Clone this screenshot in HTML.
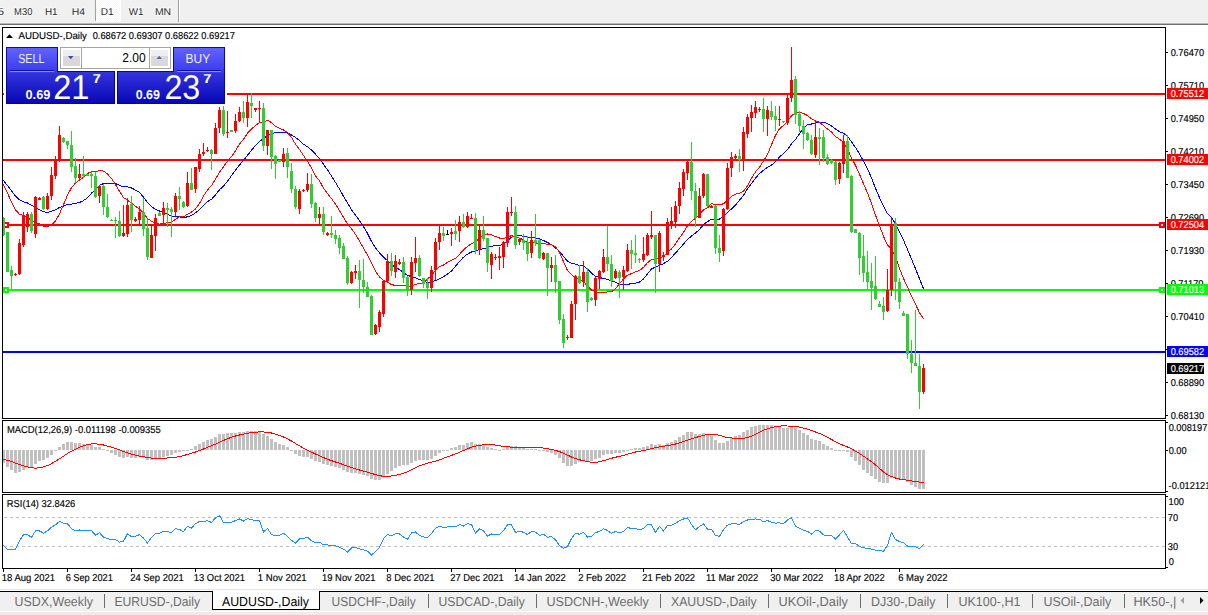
<!DOCTYPE html>
<html><head><meta charset="utf-8"><title>AUDUSD-,Daily</title>
<style>html,body{margin:0;padding:0;background:#fff;width:1208px;height:615px;overflow:hidden}svg{display:block}text{font-family:"Liberation Sans",sans-serif;white-space:pre}</style>
</head><body><svg width="1208" height="615" viewBox="0 0 1208 615" font-family="Liberation Sans, sans-serif" text-rendering="geometricPrecision"><rect x="0" y="0" width="1208" height="23" fill="#f0f0f0"/>
<defs><pattern id="chk" width="2" height="2" patternUnits="userSpaceOnUse"><rect width="2" height="2" fill="#f6f6f6"/><rect width="1" height="1" fill="#ffffff"/><rect x="1" y="1" width="1" height="1" fill="#ffffff"/></pattern><clipPath id="cmain"><rect x="3" y="28" width="1162" height="390"/></clipPath><clipPath id="cmacd"><rect x="3" y="421" width="1162" height="71"/></clipPath><clipPath id="crsi"><rect x="3" y="495" width="1162" height="73"/></clipPath><linearGradient id="gtop" x1="0" y1="0" x2="0" y2="1"><stop offset="0" stop-color="#6464ff"/><stop offset="1" stop-color="#3c3ced"/></linearGradient><linearGradient id="gbot" x1="0" y1="0" x2="0" y2="1"><stop offset="0" stop-color="#3535e0"/><stop offset="1" stop-color="#0606b4"/></linearGradient></defs>
<rect x="96" y="0" width="25" height="22" fill="#ffffff"/>
<rect x="96" y="0" width="24" height="21" fill="url(#chk)"/>
<rect x="95" y="0" width="1" height="21" fill="#a0a0a0"/>
<rect x="178" y="0" width="1" height="22" fill="#a0a0a0"/>
<rect x="179" y="0" width="1" height="22" fill="#ffffff"/>
<rect x="0" y="23" width="1208" height="1" fill="#b9b9b9"/>
<rect x="0" y="24" width="1208" height="1" fill="#6e6e6e"/>
<rect x="0" y="25" width="1208" height="564" fill="#ffffff"/>
<text x="-2.15" y="15" font-size="10" fill="#ffffff" font-weight="normal" textLength="6.32" lengthAdjust="spacingAndGlyphs" stroke="#ffffff" stroke-width="1.6" opacity="0.7">5</text>
<text x="-2.15" y="15" font-size="10" fill="#2a2a2a" font-weight="normal" textLength="6.32" lengthAdjust="spacingAndGlyphs" >5</text>
<text x="14.12" y="15" font-size="10" fill="#ffffff" font-weight="normal" textLength="18.28" lengthAdjust="spacingAndGlyphs" stroke="#ffffff" stroke-width="1.6" opacity="0.7">M30</text>
<text x="14.12" y="15" font-size="10" fill="#2a2a2a" font-weight="normal" textLength="18.28" lengthAdjust="spacingAndGlyphs" >M30</text>
<text x="44.88" y="15" font-size="10" fill="#ffffff" font-weight="normal" textLength="12.70" lengthAdjust="spacingAndGlyphs" stroke="#ffffff" stroke-width="1.6" opacity="0.7">H1</text>
<text x="44.88" y="15" font-size="10" fill="#2a2a2a" font-weight="normal" textLength="12.70" lengthAdjust="spacingAndGlyphs" >H1</text>
<text x="71.84" y="15" font-size="10" fill="#ffffff" font-weight="normal" textLength="13.36" lengthAdjust="spacingAndGlyphs" stroke="#ffffff" stroke-width="1.6" opacity="0.7">H4</text>
<text x="71.84" y="15" font-size="10" fill="#2a2a2a" font-weight="normal" textLength="13.36" lengthAdjust="spacingAndGlyphs" >H4</text>
<text x="100.77" y="15" font-size="10" fill="#ffffff" font-weight="normal" textLength="12.92" lengthAdjust="spacingAndGlyphs" stroke="#ffffff" stroke-width="1.6" opacity="0.7">D1</text>
<text x="100.77" y="15" font-size="10" fill="#2a2a2a" font-weight="normal" textLength="12.92" lengthAdjust="spacingAndGlyphs" >D1</text>
<text x="128.85" y="15" font-size="10" fill="#ffffff" font-weight="normal" textLength="14.61" lengthAdjust="spacingAndGlyphs" stroke="#ffffff" stroke-width="1.6" opacity="0.7">W1</text>
<text x="128.85" y="15" font-size="10" fill="#2a2a2a" font-weight="normal" textLength="14.61" lengthAdjust="spacingAndGlyphs" >W1</text>
<text x="154.94" y="15" font-size="10" fill="#ffffff" font-weight="normal" textLength="16.22" lengthAdjust="spacingAndGlyphs" stroke="#ffffff" stroke-width="1.6" opacity="0.7">MN</text>
<text x="154.94" y="15" font-size="10" fill="#2a2a2a" font-weight="normal" textLength="16.22" lengthAdjust="spacingAndGlyphs" >MN</text>
<rect x="2.5" y="27.5" width="1163" height="391" fill="none" stroke="#000" stroke-width="1"/>
<rect x="2.5" y="420.5" width="1163" height="72" fill="none" stroke="#000" stroke-width="1"/>
<rect x="2.5" y="494.5" width="1163" height="74" fill="none" stroke="#000" stroke-width="1"/>
<g clip-path="url(#cmain)" shape-rendering="crispEdges">
<rect x="3" y="93" width="1162" height="2" fill="#ff0000"/>
<rect x="3" y="159" width="1162" height="2" fill="#ff0000"/>
<rect x="3" y="224" width="1162" height="2" fill="#ff0000"/>
<rect x="3" y="222" width="6" height="6" fill="#ff0000"/><rect x="5" y="224" width="2" height="2" fill="#fff"/>
<rect x="1159" y="222" width="6" height="6" fill="#ff0000"/><rect x="1161" y="224" width="2" height="2" fill="#fff"/>
<rect x="3" y="289" width="1162" height="2" fill="#00ff00"/>
<rect x="3" y="287" width="6" height="6" fill="#00ff00"/><rect x="5" y="289" width="2" height="2" fill="#fff"/>
<rect x="1159" y="287" width="6" height="6" fill="#00ff00"/><rect x="1161" y="289" width="2" height="2" fill="#fff"/>
<rect x="3" y="351" width="1162" height="2" fill="#0000ff"/>
</g>
<polyline clip-path="url(#cmain)" points="-0.5,177.1 3.5,180.7 7.5,185.5 11.5,190.7 15.5,196.1 19.5,199.9 23.5,201.8 27.5,203.0 31.5,205.4 35.5,207.3 39.5,209.7 43.5,211.7 47.5,212.4 51.5,211.3 55.5,209.8 59.5,207.5 63.5,206.2 67.5,204.4 71.5,204.2 75.5,203.4 79.5,202.5 83.5,200.6 87.5,197.7 91.5,193.2 95.5,189.4 99.5,185.3 103.5,183.6 107.5,183.6 111.5,184.0 115.5,183.5 119.5,185.3 123.5,187.0 127.5,186.8 131.5,188.0 135.5,190.1 139.5,192.5 143.5,197.0 147.5,202.5 151.5,206.7 155.5,209.2 159.5,211.0 163.5,212.6 167.5,214.2 171.5,215.9 175.5,216.8 179.5,216.9 183.5,217.9 187.5,216.7 191.5,215.4 195.5,212.9 199.5,209.7 203.5,205.7 207.5,201.7 211.5,199.3 215.5,194.9 219.5,189.7 223.5,186.0 227.5,181.4 231.5,175.5 235.5,170.0 239.5,165.0 243.5,160.3 247.5,155.3 251.5,150.3 255.5,145.4 259.5,141.2 263.5,138.7 267.5,135.0 271.5,133.8 275.5,132.6 279.5,132.3 283.5,132.4 287.5,133.1 291.5,135.0 295.5,137.4 299.5,140.5 303.5,144.3 307.5,146.7 311.5,150.1 315.5,154.2 319.5,158.6 323.5,164.3 327.5,169.8 331.5,176.1 335.5,182.5 339.5,189.1 343.5,196.3 347.5,202.9 351.5,209.7 355.5,215.1 359.5,220.6 363.5,226.6 367.5,233.4 371.5,241.4 375.5,247.8 379.5,252.9 383.5,257.2 387.5,260.6 391.5,264.7 395.5,267.4 399.5,269.5 403.5,272.5 407.5,275.3 411.5,276.7 415.5,277.8 419.5,279.5 423.5,281.2 427.5,282.6 431.5,282.0 435.5,280.6 439.5,278.8 443.5,276.7 447.5,274.1 451.5,271.0 455.5,266.2 459.5,261.3 463.5,257.2 467.5,254.1 471.5,252.0 475.5,251.0 479.5,249.6 483.5,248.5 487.5,247.8 491.5,246.1 495.5,245.8 499.5,245.7 503.5,244.1 507.5,240.8 511.5,237.1 515.5,235.9 519.5,235.7 523.5,236.2 527.5,237.1 531.5,237.3 535.5,237.9 539.5,239.0 543.5,240.5 547.5,242.5 551.5,244.8 555.5,247.9 559.5,251.2 563.5,256.5 567.5,261.2 571.5,263.1 575.5,264.1 579.5,265.4 583.5,266.1 587.5,269.0 591.5,273.1 595.5,276.3 599.5,277.6 603.5,278.4 607.5,279.5 611.5,280.7 615.5,282.2 619.5,283.9 623.5,284.5 627.5,284.3 631.5,283.7 635.5,283.2 639.5,282.1 643.5,279.0 647.5,273.8 651.5,269.0 655.5,267.1 659.5,265.1 663.5,263.7 667.5,261.3 671.5,257.5 675.5,253.0 679.5,248.7 683.5,244.0 687.5,239.5 691.5,236.0 695.5,233.0 699.5,229.5 703.5,224.6 707.5,221.5 711.5,219.4 715.5,219.1 719.5,219.1 723.5,216.7 727.5,212.6 731.5,208.9 735.5,205.1 739.5,200.2 743.5,195.4 747.5,188.8 751.5,183.6 755.5,178.2 759.5,173.5 763.5,170.3 767.5,167.3 771.5,165.1 775.5,161.8 779.5,157.0 783.5,153.5 787.5,149.8 791.5,143.8 795.5,139.5 799.5,133.7 803.5,128.0 807.5,124.7 811.5,124.0 815.5,123.1 819.5,122.3 823.5,122.2 827.5,123.7 831.5,125.9 835.5,129.1 839.5,131.7 843.5,133.3 847.5,136.1 851.5,141.9 855.5,147.4 859.5,154.0 863.5,161.3 867.5,168.9 871.5,177.9 875.5,188.4 879.5,197.5 883.5,206.4 887.5,213.8 891.5,217.8 895.5,223.9 899.5,231.8 903.5,240.2 907.5,249.5 911.5,259.0 915.5,268.7 919.5,278.8 923.5,288.6" fill="none" stroke="#0000ff" stroke-width="1" shape-rendering="crispEdges"/>
<polyline clip-path="url(#cmain)" points="-0.5,181.1 3.5,184.9 7.5,193.1 11.5,202.3 15.5,210.0 19.5,214.3 23.5,215.6 27.5,217.2 31.5,220.7 35.5,222.6 39.5,223.6 43.5,226.3 47.5,226.4 51.5,225.1 55.5,221.0 59.5,213.9 63.5,204.6 67.5,195.2 71.5,187.6 75.5,183.0 79.5,180.1 83.5,177.4 87.5,173.4 91.5,171.9 95.5,171.9 99.5,170.3 103.5,171.1 107.5,174.1 111.5,178.4 115.5,184.6 119.5,191.2 123.5,197.5 127.5,200.2 131.5,203.2 135.5,206.4 139.5,209.0 143.5,212.8 147.5,218.5 151.5,221.2 155.5,223.5 159.5,224.1 163.5,223.5 167.5,222.7 171.5,222.0 175.5,219.2 179.5,216.8 183.5,216.9 187.5,214.2 191.5,212.1 195.5,208.9 199.5,203.6 203.5,196.1 207.5,190.0 211.5,185.5 215.5,179.2 219.5,172.1 223.5,166.7 227.5,161.0 231.5,156.5 235.5,150.9 239.5,144.1 243.5,139.4 247.5,133.2 251.5,128.9 255.5,125.6 259.5,122.5 263.5,122.1 267.5,120.4 271.5,122.5 275.5,126.4 279.5,128.4 283.5,130.0 287.5,132.5 291.5,137.4 295.5,144.2 299.5,149.4 303.5,155.6 307.5,161.2 311.5,168.1 315.5,175.9 319.5,180.8 323.5,188.1 327.5,193.5 331.5,198.6 335.5,204.1 339.5,210.8 343.5,217.4 347.5,224.1 351.5,228.7 355.5,234.4 359.5,240.9 363.5,248.2 367.5,254.9 371.5,263.3 375.5,271.2 379.5,276.9 383.5,280.4 387.5,282.3 391.5,284.5 395.5,285.5 399.5,285.7 403.5,285.2 407.5,286.6 411.5,286.0 415.5,284.4 419.5,283.5 423.5,282.6 427.5,279.2 431.5,275.3 435.5,270.3 439.5,266.8 443.5,265.0 447.5,262.4 451.5,260.3 455.5,258.3 459.5,254.3 463.5,249.8 467.5,246.5 471.5,243.6 475.5,241.8 479.5,238.0 483.5,234.5 487.5,234.0 491.5,234.8 495.5,236.6 499.5,238.0 503.5,238.6 507.5,237.2 511.5,235.6 515.5,237.2 519.5,238.1 523.5,240.0 527.5,242.6 531.5,241.9 535.5,242.8 539.5,244.1 543.5,243.4 547.5,244.3 551.5,244.9 555.5,246.8 559.5,252.3 563.5,261.6 567.5,270.6 571.5,274.8 575.5,277.4 579.5,280.3 583.5,281.6 587.5,286.0 591.5,290.1 595.5,291.5 599.5,292.9 603.5,292.1 607.5,292.0 611.5,291.9 615.5,288.5 619.5,283.8 623.5,279.0 627.5,275.2 631.5,273.6 635.5,271.6 639.5,270.7 643.5,267.3 647.5,262.7 651.5,259.6 655.5,259.1 659.5,257.4 663.5,256.7 667.5,252.5 671.5,248.9 675.5,243.8 679.5,237.9 683.5,232.3 687.5,225.8 691.5,221.3 695.5,218.3 699.5,214.2 703.5,209.9 707.5,207.9 711.5,203.7 715.5,204.7 719.5,204.7 723.5,203.8 727.5,200.1 731.5,196.5 735.5,194.2 739.5,193.3 743.5,191.2 747.5,185.9 751.5,178.3 755.5,171.9 759.5,167.2 763.5,161.0 767.5,154.2 771.5,144.8 775.5,135.3 779.5,128.8 783.5,125.5 787.5,121.3 791.5,115.9 795.5,112.7 799.5,112.2 803.5,113.5 807.5,115.5 811.5,118.8 815.5,120.8 819.5,122.2 823.5,125.7 827.5,129.0 831.5,132.1 835.5,136.4 839.5,139.3 843.5,142.4 847.5,149.4 851.5,157.8 855.5,165.4 859.5,174.2 863.5,183.7 867.5,192.8 871.5,203.6 875.5,215.1 879.5,225.7 883.5,236.3 887.5,245.3 891.5,248.5 895.5,257.0 899.5,268.5 903.5,278.4 907.5,287.1 911.5,296.4 915.5,304.2 919.5,312.7 923.5,318.8" fill="none" stroke="#ff0000" stroke-width="1" shape-rendering="crispEdges"/>
<g clip-path="url(#cmain)" shape-rendering="crispEdges">
<rect x="3" y="217" width="1" height="19" fill="#32cd32"/>
<rect x="2" y="218" width="3" height="17" fill="#32cd32"/>
<rect x="7" y="232" width="1" height="40" fill="#32cd32"/>
<rect x="6" y="232" width="3" height="40" fill="#32cd32"/>
<rect x="11" y="266" width="1" height="23" fill="#32cd32"/>
<rect x="10" y="270" width="3" height="6" fill="#32cd32"/>
<rect x="15" y="273" width="1" height="3" fill="#ff0000"/>
<rect x="14" y="274" width="3" height="1" fill="#ff0000"/>
<rect x="19" y="239" width="1" height="36" fill="#ff0000"/>
<rect x="18" y="243" width="3" height="31" fill="#ff0000"/>
<rect x="23" y="212" width="1" height="35" fill="#ff0000"/>
<rect x="22" y="216" width="3" height="29" fill="#ff0000"/>
<rect x="27" y="212" width="1" height="20" fill="#ff0000"/>
<rect x="26" y="214" width="3" height="13" fill="#ff0000"/>
<rect x="31" y="212" width="1" height="21" fill="#32cd32"/>
<rect x="30" y="214" width="3" height="17" fill="#32cd32"/>
<rect x="35" y="196" width="1" height="42" fill="#ff0000"/>
<rect x="34" y="197" width="3" height="37" fill="#ff0000"/>
<rect x="39" y="197" width="1" height="3" fill="#ff0000"/>
<rect x="38" y="198" width="3" height="2" fill="#ff0000"/>
<rect x="43" y="196" width="1" height="14" fill="#32cd32"/>
<rect x="42" y="197" width="3" height="12" fill="#32cd32"/>
<rect x="47" y="193" width="1" height="17" fill="#ff0000"/>
<rect x="46" y="196" width="3" height="13" fill="#ff0000"/>
<rect x="51" y="167" width="1" height="33" fill="#ff0000"/>
<rect x="50" y="175" width="3" height="21" fill="#ff0000"/>
<rect x="55" y="156" width="1" height="23" fill="#ff0000"/>
<rect x="54" y="160" width="3" height="16" fill="#ff0000"/>
<rect x="59" y="126" width="1" height="36" fill="#ff0000"/>
<rect x="58" y="135" width="3" height="26" fill="#ff0000"/>
<rect x="63" y="137" width="1" height="6" fill="#32cd32"/>
<rect x="62" y="138" width="3" height="4" fill="#32cd32"/>
<rect x="67" y="141" width="1" height="8" fill="#32cd32"/>
<rect x="66" y="141" width="3" height="4" fill="#32cd32"/>
<rect x="71" y="131" width="1" height="41" fill="#32cd32"/>
<rect x="70" y="145" width="3" height="22" fill="#32cd32"/>
<rect x="75" y="158" width="1" height="25" fill="#32cd32"/>
<rect x="74" y="166" width="3" height="12" fill="#32cd32"/>
<rect x="79" y="164" width="1" height="15" fill="#ff0000"/>
<rect x="78" y="174" width="3" height="4" fill="#ff0000"/>
<rect x="83" y="156" width="1" height="22" fill="#32cd32"/>
<rect x="82" y="174" width="3" height="2" fill="#32cd32"/>
<rect x="87" y="174" width="1" height="2" fill="#32cd32"/>
<rect x="86" y="174" width="3" height="2" fill="#32cd32"/>
<rect x="91" y="172" width="1" height="16" fill="#32cd32"/>
<rect x="90" y="174" width="3" height="2" fill="#32cd32"/>
<rect x="95" y="172" width="1" height="26" fill="#32cd32"/>
<rect x="94" y="176" width="3" height="21" fill="#32cd32"/>
<rect x="99" y="185" width="1" height="18" fill="#ff0000"/>
<rect x="98" y="186" width="3" height="10" fill="#ff0000"/>
<rect x="103" y="184" width="1" height="31" fill="#32cd32"/>
<rect x="102" y="186" width="3" height="21" fill="#32cd32"/>
<rect x="107" y="194" width="1" height="24" fill="#32cd32"/>
<rect x="106" y="207" width="3" height="10" fill="#32cd32"/>
<rect x="111" y="219" width="1" height="2" fill="#32cd32"/>
<rect x="110" y="220" width="3" height="1" fill="#32cd32"/>
<rect x="115" y="217" width="1" height="21" fill="#32cd32"/>
<rect x="114" y="220" width="3" height="1" fill="#32cd32"/>
<rect x="119" y="211" width="1" height="26" fill="#32cd32"/>
<rect x="118" y="221" width="3" height="15" fill="#32cd32"/>
<rect x="123" y="205" width="1" height="32" fill="#ff0000"/>
<rect x="122" y="233" width="3" height="3" fill="#ff0000"/>
<rect x="127" y="198" width="1" height="39" fill="#ff0000"/>
<rect x="126" y="205" width="3" height="29" fill="#ff0000"/>
<rect x="131" y="196" width="1" height="36" fill="#32cd32"/>
<rect x="130" y="204" width="3" height="16" fill="#32cd32"/>
<rect x="135" y="217" width="1" height="5" fill="#ff0000"/>
<rect x="134" y="219" width="3" height="2" fill="#ff0000"/>
<rect x="139" y="206" width="1" height="18" fill="#ff0000"/>
<rect x="138" y="212" width="3" height="8" fill="#ff0000"/>
<rect x="143" y="198" width="1" height="38" fill="#32cd32"/>
<rect x="142" y="212" width="3" height="17" fill="#32cd32"/>
<rect x="147" y="219" width="1" height="41" fill="#32cd32"/>
<rect x="146" y="228" width="3" height="29" fill="#32cd32"/>
<rect x="151" y="225" width="1" height="33" fill="#ff0000"/>
<rect x="150" y="235" width="3" height="23" fill="#ff0000"/>
<rect x="155" y="214" width="1" height="37" fill="#ff0000"/>
<rect x="154" y="218" width="3" height="18" fill="#ff0000"/>
<rect x="159" y="212" width="1" height="4" fill="#32cd32"/>
<rect x="158" y="213" width="3" height="3" fill="#32cd32"/>
<rect x="163" y="202" width="1" height="22" fill="#ff0000"/>
<rect x="162" y="208" width="3" height="7" fill="#ff0000"/>
<rect x="167" y="203" width="1" height="24" fill="#32cd32"/>
<rect x="166" y="208" width="3" height="2" fill="#32cd32"/>
<rect x="171" y="207" width="1" height="30" fill="#32cd32"/>
<rect x="170" y="209" width="3" height="3" fill="#32cd32"/>
<rect x="175" y="193" width="1" height="23" fill="#ff0000"/>
<rect x="174" y="196" width="3" height="16" fill="#ff0000"/>
<rect x="179" y="187" width="1" height="23" fill="#32cd32"/>
<rect x="178" y="196" width="3" height="3" fill="#32cd32"/>
<rect x="183" y="201" width="1" height="7" fill="#32cd32"/>
<rect x="182" y="202" width="3" height="5" fill="#32cd32"/>
<rect x="187" y="172" width="1" height="35" fill="#ff0000"/>
<rect x="186" y="183" width="3" height="23" fill="#ff0000"/>
<rect x="191" y="168" width="1" height="22" fill="#32cd32"/>
<rect x="190" y="183" width="3" height="7" fill="#32cd32"/>
<rect x="195" y="167" width="1" height="26" fill="#ff0000"/>
<rect x="194" y="167" width="3" height="22" fill="#ff0000"/>
<rect x="199" y="149" width="1" height="23" fill="#ff0000"/>
<rect x="198" y="154" width="3" height="15" fill="#ff0000"/>
<rect x="203" y="143" width="1" height="13" fill="#ff0000"/>
<rect x="202" y="152" width="3" height="2" fill="#ff0000"/>
<rect x="207" y="147" width="1" height="5" fill="#ff0000"/>
<rect x="206" y="150" width="3" height="1" fill="#ff0000"/>
<rect x="211" y="149" width="1" height="21" fill="#32cd32"/>
<rect x="210" y="150" width="3" height="4" fill="#32cd32"/>
<rect x="215" y="123" width="1" height="31" fill="#ff0000"/>
<rect x="214" y="128" width="3" height="26" fill="#ff0000"/>
<rect x="219" y="107" width="1" height="26" fill="#ff0000"/>
<rect x="218" y="110" width="3" height="18" fill="#ff0000"/>
<rect x="223" y="106" width="1" height="30" fill="#32cd32"/>
<rect x="222" y="110" width="3" height="24" fill="#32cd32"/>
<rect x="227" y="111" width="1" height="27" fill="#ff0000"/>
<rect x="226" y="132" width="3" height="1" fill="#ff0000"/>
<rect x="231" y="130" width="1" height="2" fill="#32cd32"/>
<rect x="230" y="130" width="3" height="2" fill="#32cd32"/>
<rect x="235" y="114" width="1" height="19" fill="#ff0000"/>
<rect x="234" y="121" width="3" height="10" fill="#ff0000"/>
<rect x="239" y="107" width="1" height="15" fill="#ff0000"/>
<rect x="238" y="112" width="3" height="9" fill="#ff0000"/>
<rect x="243" y="101" width="1" height="22" fill="#32cd32"/>
<rect x="242" y="112" width="3" height="6" fill="#32cd32"/>
<rect x="247" y="94" width="1" height="33" fill="#ff0000"/>
<rect x="246" y="102" width="3" height="16" fill="#ff0000"/>
<rect x="251" y="93" width="1" height="25" fill="#32cd32"/>
<rect x="250" y="103" width="3" height="3" fill="#32cd32"/>
<rect x="255" y="108" width="1" height="4" fill="#ff0000"/>
<rect x="254" y="108" width="3" height="2" fill="#ff0000"/>
<rect x="259" y="101" width="1" height="21" fill="#ff0000"/>
<rect x="258" y="108" width="3" height="1" fill="#ff0000"/>
<rect x="263" y="103" width="1" height="48" fill="#32cd32"/>
<rect x="262" y="108" width="3" height="38" fill="#32cd32"/>
<rect x="267" y="130" width="1" height="25" fill="#ff0000"/>
<rect x="266" y="130" width="3" height="16" fill="#ff0000"/>
<rect x="271" y="130" width="1" height="39" fill="#32cd32"/>
<rect x="270" y="130" width="3" height="27" fill="#32cd32"/>
<rect x="275" y="155" width="1" height="24" fill="#32cd32"/>
<rect x="274" y="156" width="3" height="8" fill="#32cd32"/>
<rect x="279" y="160" width="1" height="2" fill="#32cd32"/>
<rect x="278" y="160" width="3" height="2" fill="#32cd32"/>
<rect x="283" y="148" width="1" height="19" fill="#ff0000"/>
<rect x="282" y="154" width="3" height="8" fill="#ff0000"/>
<rect x="287" y="148" width="1" height="30" fill="#32cd32"/>
<rect x="286" y="153" width="3" height="14" fill="#32cd32"/>
<rect x="291" y="163" width="1" height="30" fill="#32cd32"/>
<rect x="290" y="171" width="3" height="18" fill="#32cd32"/>
<rect x="295" y="186" width="1" height="23" fill="#32cd32"/>
<rect x="294" y="189" width="3" height="18" fill="#32cd32"/>
<rect x="299" y="189" width="1" height="25" fill="#ff0000"/>
<rect x="298" y="191" width="3" height="18" fill="#ff0000"/>
<rect x="303" y="189" width="1" height="3" fill="#ff0000"/>
<rect x="302" y="190" width="3" height="1" fill="#ff0000"/>
<rect x="307" y="173" width="1" height="19" fill="#ff0000"/>
<rect x="306" y="184" width="3" height="6" fill="#ff0000"/>
<rect x="311" y="174" width="1" height="34" fill="#32cd32"/>
<rect x="310" y="184" width="3" height="20" fill="#32cd32"/>
<rect x="315" y="202" width="1" height="20" fill="#32cd32"/>
<rect x="314" y="203" width="3" height="15" fill="#32cd32"/>
<rect x="319" y="207" width="1" height="17" fill="#ff0000"/>
<rect x="318" y="214" width="3" height="4" fill="#ff0000"/>
<rect x="323" y="207" width="1" height="28" fill="#32cd32"/>
<rect x="322" y="214" width="3" height="18" fill="#32cd32"/>
<rect x="327" y="232" width="1" height="4" fill="#ff0000"/>
<rect x="326" y="233" width="3" height="2" fill="#ff0000"/>
<rect x="331" y="216" width="1" height="22" fill="#32cd32"/>
<rect x="330" y="233" width="3" height="2" fill="#32cd32"/>
<rect x="335" y="230" width="1" height="14" fill="#32cd32"/>
<rect x="334" y="235" width="3" height="4" fill="#32cd32"/>
<rect x="339" y="235" width="1" height="19" fill="#32cd32"/>
<rect x="338" y="238" width="3" height="10" fill="#32cd32"/>
<rect x="343" y="243" width="1" height="16" fill="#32cd32"/>
<rect x="342" y="246" width="3" height="13" fill="#32cd32"/>
<rect x="347" y="256" width="1" height="29" fill="#32cd32"/>
<rect x="346" y="258" width="3" height="25" fill="#32cd32"/>
<rect x="351" y="271" width="1" height="13" fill="#ff0000"/>
<rect x="350" y="272" width="3" height="11" fill="#ff0000"/>
<rect x="355" y="265" width="1" height="14" fill="#ff0000"/>
<rect x="354" y="271" width="3" height="2" fill="#ff0000"/>
<rect x="359" y="260" width="1" height="48" fill="#32cd32"/>
<rect x="358" y="271" width="3" height="9" fill="#32cd32"/>
<rect x="363" y="259" width="1" height="34" fill="#32cd32"/>
<rect x="362" y="280" width="3" height="7" fill="#32cd32"/>
<rect x="367" y="282" width="1" height="15" fill="#32cd32"/>
<rect x="366" y="287" width="3" height="10" fill="#32cd32"/>
<rect x="371" y="295" width="1" height="40" fill="#32cd32"/>
<rect x="370" y="296" width="3" height="39" fill="#32cd32"/>
<rect x="375" y="324" width="1" height="11" fill="#ff0000"/>
<rect x="374" y="325" width="3" height="9" fill="#ff0000"/>
<rect x="379" y="310" width="1" height="22" fill="#ff0000"/>
<rect x="378" y="312" width="3" height="15" fill="#ff0000"/>
<rect x="383" y="280" width="1" height="37" fill="#ff0000"/>
<rect x="382" y="281" width="3" height="33" fill="#ff0000"/>
<rect x="387" y="254" width="1" height="28" fill="#ff0000"/>
<rect x="386" y="261" width="3" height="20" fill="#ff0000"/>
<rect x="391" y="253" width="1" height="23" fill="#32cd32"/>
<rect x="390" y="261" width="3" height="10" fill="#32cd32"/>
<rect x="395" y="255" width="1" height="23" fill="#ff0000"/>
<rect x="394" y="261" width="3" height="11" fill="#ff0000"/>
<rect x="399" y="259" width="1" height="6" fill="#ff0000"/>
<rect x="398" y="262" width="3" height="2" fill="#ff0000"/>
<rect x="403" y="257" width="1" height="26" fill="#32cd32"/>
<rect x="402" y="262" width="3" height="16" fill="#32cd32"/>
<rect x="407" y="276" width="1" height="20" fill="#32cd32"/>
<rect x="406" y="277" width="3" height="14" fill="#32cd32"/>
<rect x="411" y="257" width="1" height="38" fill="#ff0000"/>
<rect x="410" y="262" width="3" height="28" fill="#ff0000"/>
<rect x="415" y="237" width="1" height="35" fill="#ff0000"/>
<rect x="414" y="258" width="3" height="5" fill="#ff0000"/>
<rect x="419" y="255" width="1" height="22" fill="#32cd32"/>
<rect x="418" y="258" width="3" height="18" fill="#32cd32"/>
<rect x="423" y="278" width="1" height="10" fill="#32cd32"/>
<rect x="422" y="278" width="3" height="6" fill="#32cd32"/>
<rect x="427" y="278" width="1" height="21" fill="#32cd32"/>
<rect x="426" y="283" width="3" height="5" fill="#32cd32"/>
<rect x="431" y="266" width="1" height="26" fill="#ff0000"/>
<rect x="430" y="270" width="3" height="18" fill="#ff0000"/>
<rect x="435" y="238" width="1" height="42" fill="#ff0000"/>
<rect x="434" y="242" width="3" height="28" fill="#ff0000"/>
<rect x="439" y="226" width="1" height="24" fill="#ff0000"/>
<rect x="438" y="233" width="3" height="9" fill="#ff0000"/>
<rect x="443" y="227" width="1" height="14" fill="#32cd32"/>
<rect x="442" y="233" width="3" height="3" fill="#32cd32"/>
<rect x="447" y="230" width="1" height="5" fill="#000000"/>
<rect x="446" y="234" width="3" height="1" fill="#000000"/>
<rect x="451" y="228" width="1" height="18" fill="#ff0000"/>
<rect x="450" y="232" width="3" height="2" fill="#ff0000"/>
<rect x="455" y="220" width="1" height="20" fill="#32cd32"/>
<rect x="454" y="231" width="3" height="3" fill="#32cd32"/>
<rect x="459" y="216" width="1" height="26" fill="#ff0000"/>
<rect x="458" y="222" width="3" height="9" fill="#ff0000"/>
<rect x="463" y="214" width="1" height="14" fill="#32cd32"/>
<rect x="462" y="222" width="3" height="5" fill="#32cd32"/>
<rect x="467" y="212" width="1" height="16" fill="#ff0000"/>
<rect x="466" y="216" width="3" height="11" fill="#ff0000"/>
<rect x="471" y="214" width="1" height="5" fill="#ff0000"/>
<rect x="470" y="218" width="3" height="1" fill="#ff0000"/>
<rect x="475" y="213" width="1" height="41" fill="#32cd32"/>
<rect x="474" y="218" width="3" height="32" fill="#32cd32"/>
<rect x="479" y="225" width="1" height="30" fill="#ff0000"/>
<rect x="478" y="230" width="3" height="19" fill="#ff0000"/>
<rect x="483" y="216" width="1" height="25" fill="#32cd32"/>
<rect x="482" y="230" width="3" height="9" fill="#32cd32"/>
<rect x="487" y="238" width="1" height="34" fill="#32cd32"/>
<rect x="486" y="238" width="3" height="25" fill="#32cd32"/>
<rect x="491" y="252" width="1" height="27" fill="#ff0000"/>
<rect x="490" y="254" width="3" height="11" fill="#ff0000"/>
<rect x="495" y="254" width="1" height="6" fill="#ff0000"/>
<rect x="494" y="257" width="3" height="1" fill="#ff0000"/>
<rect x="499" y="247" width="1" height="23" fill="#ff0000"/>
<rect x="498" y="256" width="3" height="2" fill="#ff0000"/>
<rect x="503" y="241" width="1" height="27" fill="#ff0000"/>
<rect x="502" y="242" width="3" height="15" fill="#ff0000"/>
<rect x="507" y="207" width="1" height="40" fill="#ff0000"/>
<rect x="506" y="212" width="3" height="31" fill="#ff0000"/>
<rect x="511" y="197" width="1" height="19" fill="#ff0000"/>
<rect x="510" y="212" width="3" height="1" fill="#ff0000"/>
<rect x="515" y="206" width="1" height="43" fill="#32cd32"/>
<rect x="514" y="212" width="3" height="33" fill="#32cd32"/>
<rect x="519" y="238" width="1" height="7" fill="#ff0000"/>
<rect x="518" y="239" width="3" height="3" fill="#ff0000"/>
<rect x="523" y="234" width="1" height="16" fill="#32cd32"/>
<rect x="522" y="240" width="3" height="3" fill="#32cd32"/>
<rect x="527" y="236" width="1" height="25" fill="#32cd32"/>
<rect x="526" y="242" width="3" height="12" fill="#32cd32"/>
<rect x="531" y="231" width="1" height="27" fill="#ff0000"/>
<rect x="530" y="240" width="3" height="13" fill="#ff0000"/>
<rect x="535" y="214" width="1" height="32" fill="#32cd32"/>
<rect x="534" y="240" width="3" height="3" fill="#32cd32"/>
<rect x="539" y="239" width="1" height="20" fill="#32cd32"/>
<rect x="538" y="240" width="3" height="18" fill="#32cd32"/>
<rect x="543" y="252" width="1" height="8" fill="#ff0000"/>
<rect x="542" y="253" width="3" height="6" fill="#ff0000"/>
<rect x="547" y="253" width="1" height="43" fill="#32cd32"/>
<rect x="546" y="253" width="3" height="15" fill="#32cd32"/>
<rect x="551" y="257" width="1" height="25" fill="#ff0000"/>
<rect x="550" y="265" width="3" height="3" fill="#ff0000"/>
<rect x="555" y="255" width="1" height="38" fill="#32cd32"/>
<rect x="554" y="265" width="3" height="17" fill="#32cd32"/>
<rect x="559" y="281" width="1" height="43" fill="#32cd32"/>
<rect x="558" y="281" width="3" height="39" fill="#32cd32"/>
<rect x="563" y="314" width="1" height="34" fill="#32cd32"/>
<rect x="562" y="319" width="3" height="24" fill="#32cd32"/>
<rect x="567" y="335" width="1" height="5" fill="#ff0000"/>
<rect x="566" y="337" width="3" height="1" fill="#ff0000"/>
<rect x="571" y="301" width="1" height="37" fill="#ff0000"/>
<rect x="570" y="304" width="3" height="34" fill="#ff0000"/>
<rect x="575" y="275" width="1" height="45" fill="#ff0000"/>
<rect x="574" y="276" width="3" height="28" fill="#ff0000"/>
<rect x="579" y="265" width="1" height="19" fill="#32cd32"/>
<rect x="578" y="276" width="3" height="7" fill="#32cd32"/>
<rect x="583" y="261" width="1" height="26" fill="#ff0000"/>
<rect x="582" y="272" width="3" height="10" fill="#ff0000"/>
<rect x="587" y="268" width="1" height="44" fill="#32cd32"/>
<rect x="586" y="272" width="3" height="30" fill="#32cd32"/>
<rect x="591" y="297" width="1" height="4" fill="#32cd32"/>
<rect x="590" y="298" width="3" height="2" fill="#32cd32"/>
<rect x="595" y="277" width="1" height="29" fill="#ff0000"/>
<rect x="594" y="278" width="3" height="22" fill="#ff0000"/>
<rect x="599" y="270" width="1" height="19" fill="#ff0000"/>
<rect x="598" y="271" width="3" height="8" fill="#ff0000"/>
<rect x="603" y="249" width="1" height="24" fill="#ff0000"/>
<rect x="602" y="257" width="3" height="15" fill="#ff0000"/>
<rect x="607" y="226" width="1" height="45" fill="#32cd32"/>
<rect x="606" y="257" width="3" height="7" fill="#32cd32"/>
<rect x="611" y="255" width="1" height="32" fill="#32cd32"/>
<rect x="610" y="264" width="3" height="17" fill="#32cd32"/>
<rect x="615" y="269" width="1" height="10" fill="#ff0000"/>
<rect x="614" y="271" width="3" height="7" fill="#ff0000"/>
<rect x="619" y="270" width="1" height="28" fill="#32cd32"/>
<rect x="618" y="272" width="3" height="6" fill="#32cd32"/>
<rect x="623" y="266" width="1" height="24" fill="#ff0000"/>
<rect x="622" y="270" width="3" height="7" fill="#ff0000"/>
<rect x="627" y="244" width="1" height="28" fill="#ff0000"/>
<rect x="626" y="250" width="3" height="21" fill="#ff0000"/>
<rect x="631" y="240" width="1" height="29" fill="#32cd32"/>
<rect x="630" y="250" width="3" height="4" fill="#32cd32"/>
<rect x="635" y="235" width="1" height="28" fill="#32cd32"/>
<rect x="634" y="253" width="3" height="2" fill="#32cd32"/>
<rect x="639" y="258" width="1" height="5" fill="#32cd32"/>
<rect x="638" y="259" width="3" height="1" fill="#32cd32"/>
<rect x="643" y="237" width="1" height="25" fill="#ff0000"/>
<rect x="642" y="254" width="3" height="6" fill="#ff0000"/>
<rect x="647" y="233" width="1" height="23" fill="#ff0000"/>
<rect x="646" y="235" width="3" height="20" fill="#ff0000"/>
<rect x="651" y="211" width="1" height="28" fill="#ff0000"/>
<rect x="650" y="235" width="3" height="2" fill="#ff0000"/>
<rect x="655" y="235" width="1" height="58" fill="#32cd32"/>
<rect x="654" y="235" width="3" height="29" fill="#32cd32"/>
<rect x="659" y="231" width="1" height="41" fill="#ff0000"/>
<rect x="658" y="233" width="3" height="31" fill="#ff0000"/>
<rect x="663" y="252" width="1" height="9" fill="#ff0000"/>
<rect x="662" y="255" width="3" height="2" fill="#ff0000"/>
<rect x="667" y="218" width="1" height="37" fill="#ff0000"/>
<rect x="666" y="222" width="3" height="33" fill="#ff0000"/>
<rect x="671" y="207" width="1" height="22" fill="#ff0000"/>
<rect x="670" y="221" width="3" height="3" fill="#ff0000"/>
<rect x="675" y="201" width="1" height="27" fill="#ff0000"/>
<rect x="674" y="206" width="3" height="16" fill="#ff0000"/>
<rect x="679" y="182" width="1" height="32" fill="#ff0000"/>
<rect x="678" y="188" width="3" height="18" fill="#ff0000"/>
<rect x="683" y="169" width="1" height="27" fill="#ff0000"/>
<rect x="682" y="172" width="3" height="17" fill="#ff0000"/>
<rect x="687" y="161" width="1" height="19" fill="#ff0000"/>
<rect x="686" y="162" width="3" height="11" fill="#ff0000"/>
<rect x="691" y="142" width="1" height="58" fill="#32cd32"/>
<rect x="690" y="162" width="3" height="29" fill="#32cd32"/>
<rect x="695" y="183" width="1" height="44" fill="#32cd32"/>
<rect x="694" y="191" width="3" height="27" fill="#32cd32"/>
<rect x="699" y="188" width="1" height="30" fill="#ff0000"/>
<rect x="698" y="196" width="3" height="22" fill="#ff0000"/>
<rect x="703" y="173" width="1" height="25" fill="#ff0000"/>
<rect x="702" y="174" width="3" height="22" fill="#ff0000"/>
<rect x="707" y="174" width="1" height="33" fill="#32cd32"/>
<rect x="706" y="174" width="3" height="32" fill="#32cd32"/>
<rect x="711" y="205" width="1" height="3" fill="#ff0000"/>
<rect x="710" y="206" width="3" height="2" fill="#ff0000"/>
<rect x="715" y="205" width="1" height="49" fill="#32cd32"/>
<rect x="714" y="206" width="3" height="42" fill="#32cd32"/>
<rect x="719" y="235" width="1" height="27" fill="#32cd32"/>
<rect x="718" y="248" width="3" height="5" fill="#32cd32"/>
<rect x="723" y="208" width="1" height="48" fill="#ff0000"/>
<rect x="722" y="209" width="3" height="42" fill="#ff0000"/>
<rect x="727" y="163" width="1" height="47" fill="#ff0000"/>
<rect x="726" y="168" width="3" height="41" fill="#ff0000"/>
<rect x="731" y="152" width="1" height="25" fill="#ff0000"/>
<rect x="730" y="157" width="3" height="11" fill="#ff0000"/>
<rect x="735" y="154" width="1" height="5" fill="#ff0000"/>
<rect x="734" y="156" width="3" height="2" fill="#ff0000"/>
<rect x="739" y="149" width="1" height="23" fill="#32cd32"/>
<rect x="738" y="156" width="3" height="4" fill="#32cd32"/>
<rect x="743" y="127" width="1" height="44" fill="#ff0000"/>
<rect x="742" y="132" width="3" height="28" fill="#ff0000"/>
<rect x="747" y="114" width="1" height="24" fill="#ff0000"/>
<rect x="746" y="117" width="3" height="17" fill="#ff0000"/>
<rect x="751" y="105" width="1" height="27" fill="#ff0000"/>
<rect x="750" y="112" width="3" height="6" fill="#ff0000"/>
<rect x="755" y="101" width="1" height="17" fill="#ff0000"/>
<rect x="754" y="107" width="3" height="6" fill="#ff0000"/>
<rect x="759" y="107" width="1" height="5" fill="#ff0000"/>
<rect x="758" y="109" width="3" height="1" fill="#ff0000"/>
<rect x="763" y="98" width="1" height="34" fill="#32cd32"/>
<rect x="762" y="109" width="3" height="10" fill="#32cd32"/>
<rect x="767" y="106" width="1" height="30" fill="#ff0000"/>
<rect x="766" y="110" width="3" height="9" fill="#ff0000"/>
<rect x="771" y="101" width="1" height="19" fill="#32cd32"/>
<rect x="770" y="111" width="3" height="6" fill="#32cd32"/>
<rect x="775" y="106" width="1" height="25" fill="#32cd32"/>
<rect x="774" y="116" width="3" height="4" fill="#32cd32"/>
<rect x="779" y="106" width="1" height="20" fill="#ff0000"/>
<rect x="778" y="119" width="3" height="1" fill="#ff0000"/>
<rect x="783" y="121" width="1" height="2" fill="#32cd32"/>
<rect x="782" y="121" width="3" height="1" fill="#32cd32"/>
<rect x="787" y="93" width="1" height="32" fill="#ff0000"/>
<rect x="786" y="98" width="3" height="25" fill="#ff0000"/>
<rect x="791" y="47" width="1" height="55" fill="#ff0000"/>
<rect x="790" y="80" width="3" height="18" fill="#ff0000"/>
<rect x="795" y="76" width="1" height="48" fill="#32cd32"/>
<rect x="794" y="79" width="3" height="36" fill="#32cd32"/>
<rect x="799" y="111" width="1" height="21" fill="#32cd32"/>
<rect x="798" y="114" width="3" height="12" fill="#32cd32"/>
<rect x="803" y="120" width="1" height="29" fill="#32cd32"/>
<rect x="802" y="126" width="3" height="8" fill="#32cd32"/>
<rect x="807" y="132" width="1" height="9" fill="#32cd32"/>
<rect x="806" y="133" width="3" height="7" fill="#32cd32"/>
<rect x="811" y="135" width="1" height="20" fill="#32cd32"/>
<rect x="810" y="140" width="3" height="14" fill="#32cd32"/>
<rect x="815" y="120" width="1" height="38" fill="#ff0000"/>
<rect x="814" y="137" width="3" height="18" fill="#ff0000"/>
<rect x="819" y="128" width="1" height="37" fill="#32cd32"/>
<rect x="818" y="137" width="3" height="2" fill="#32cd32"/>
<rect x="823" y="130" width="1" height="32" fill="#32cd32"/>
<rect x="822" y="137" width="3" height="21" fill="#32cd32"/>
<rect x="827" y="154" width="1" height="11" fill="#32cd32"/>
<rect x="826" y="157" width="3" height="7" fill="#32cd32"/>
<rect x="831" y="159" width="1" height="5" fill="#32cd32"/>
<rect x="830" y="160" width="3" height="3" fill="#32cd32"/>
<rect x="835" y="161" width="1" height="24" fill="#32cd32"/>
<rect x="834" y="162" width="3" height="18" fill="#32cd32"/>
<rect x="839" y="162" width="1" height="22" fill="#ff0000"/>
<rect x="838" y="163" width="3" height="16" fill="#ff0000"/>
<rect x="843" y="135" width="1" height="38" fill="#ff0000"/>
<rect x="842" y="141" width="3" height="23" fill="#ff0000"/>
<rect x="847" y="135" width="1" height="43" fill="#32cd32"/>
<rect x="846" y="141" width="3" height="37" fill="#32cd32"/>
<rect x="851" y="175" width="1" height="58" fill="#32cd32"/>
<rect x="850" y="176" width="3" height="56" fill="#32cd32"/>
<rect x="855" y="229" width="1" height="4" fill="#32cd32"/>
<rect x="854" y="229" width="3" height="4" fill="#32cd32"/>
<rect x="859" y="232" width="1" height="43" fill="#32cd32"/>
<rect x="858" y="233" width="3" height="25" fill="#32cd32"/>
<rect x="863" y="235" width="1" height="47" fill="#32cd32"/>
<rect x="862" y="256" width="3" height="17" fill="#32cd32"/>
<rect x="867" y="251" width="1" height="38" fill="#32cd32"/>
<rect x="866" y="272" width="3" height="10" fill="#32cd32"/>
<rect x="871" y="263" width="1" height="47" fill="#32cd32"/>
<rect x="870" y="281" width="3" height="7" fill="#32cd32"/>
<rect x="875" y="256" width="1" height="44" fill="#32cd32"/>
<rect x="874" y="286" width="3" height="13" fill="#32cd32"/>
<rect x="879" y="301" width="1" height="6" fill="#32cd32"/>
<rect x="878" y="304" width="3" height="3" fill="#32cd32"/>
<rect x="883" y="297" width="1" height="23" fill="#32cd32"/>
<rect x="882" y="306" width="3" height="6" fill="#32cd32"/>
<rect x="887" y="269" width="1" height="43" fill="#ff0000"/>
<rect x="886" y="290" width="3" height="21" fill="#ff0000"/>
<rect x="891" y="218" width="1" height="78" fill="#ff0000"/>
<rect x="890" y="224" width="3" height="66" fill="#ff0000"/>
<rect x="895" y="218" width="1" height="82" fill="#32cd32"/>
<rect x="894" y="223" width="3" height="59" fill="#32cd32"/>
<rect x="899" y="278" width="1" height="31" fill="#32cd32"/>
<rect x="898" y="282" width="3" height="20" fill="#32cd32"/>
<rect x="903" y="311" width="1" height="5" fill="#32cd32"/>
<rect x="902" y="313" width="3" height="3" fill="#32cd32"/>
<rect x="907" y="314" width="1" height="45" fill="#32cd32"/>
<rect x="906" y="314" width="3" height="40" fill="#32cd32"/>
<rect x="911" y="340" width="1" height="33" fill="#32cd32"/>
<rect x="910" y="354" width="3" height="9" fill="#32cd32"/>
<rect x="915" y="310" width="1" height="56" fill="#32cd32"/>
<rect x="914" y="363" width="3" height="3" fill="#32cd32"/>
<rect x="919" y="354" width="1" height="55" fill="#32cd32"/>
<rect x="918" y="366" width="3" height="26" fill="#32cd32"/>
<rect x="923" y="364" width="1" height="30" fill="#ff0000"/>
<rect x="922" y="368" width="3" height="24" fill="#ff0000"/>
</g>
<path d="M6,38 L9.5,34.2 L13,38 Z" fill="#000"/>
<text x="18.58" y="39" font-size="10" fill="#000" font-weight="normal" textLength="68.34" lengthAdjust="spacingAndGlyphs" stroke="#000" stroke-width="0.15" >AUDUSD-,Daily</text>
<text x="92.63" y="39" font-size="10" fill="#000" font-weight="normal" textLength="142.34" lengthAdjust="spacingAndGlyphs" stroke="#000" stroke-width="0.15" >0.68672 0.69307 0.68622 0.69217</text>
<rect x="4" y="44" width="223" height="61" fill="#ffffff"/>
<rect x="6" y="47" width="52" height="24" fill="url(#gtop)"/>
<rect x="6.5" y="47.5" width="51" height="30" fill="none" stroke="#0a0ab4"/>
<rect x="173" y="47" width="52" height="24" fill="url(#gtop)"/>
<rect x="173.5" y="47.5" width="51" height="30" fill="none" stroke="#0a0ab4"/>
<rect x="6" y="71" width="109" height="33" fill="url(#gbot)"/>
<rect x="117" y="71" width="108" height="33" fill="url(#gbot)"/>
<rect x="6.5" y="71.5" width="108" height="32" fill="none" stroke="#0404a8"/>
<rect x="117.5" y="71.5" width="107" height="32" fill="none" stroke="#0404a8"/>
<rect x="7" y="70" width="50" height="3" fill="#3a3aea"/>
<rect x="174" y="70" width="50" height="3" fill="#3a3aea"/>
<rect x="10" y="70" width="44" height="1" fill="#12129a"/><rect x="10" y="71" width="44" height="1" fill="#8888ff"/>
<rect x="177" y="70" width="44" height="1" fill="#12129a"/><rect x="177" y="71" width="44" height="1" fill="#8888ff"/>
<rect x="60.5" y="47.5" width="110" height="21" fill="#ffffff" stroke="#a4a4a4"/>
<rect x="62" y="49" width="19" height="18" fill="#ffffff"/>
<rect x="63" y="50" width="17" height="6" fill="#eeeeee"/><rect x="63" y="56" width="17" height="10" fill="#d9d9d9"/>
<rect x="150" y="49" width="19" height="18" fill="#ffffff"/>
<rect x="151" y="50" width="17" height="6" fill="#eeeeee"/><rect x="151" y="56" width="17" height="10" fill="#d9d9d9"/>
<rect x="81" y="48" width="1" height="20" fill="#a4a4a4"/>
<rect x="149" y="48" width="1" height="20" fill="#a4a4a4"/>
<path d="M68,56 L73.5,56 L70.75,59.2 Z" fill="#3a4aa8"/>
<path d="M156.5,59 L162,59 L159.25,55.8 Z" fill="#5a6ab8"/>
<text x="122.20" y="62" font-size="12.8" fill="#000" font-weight="normal" textLength="23.47" lengthAdjust="spacingAndGlyphs" >2.00</text>
<text x="18.22" y="63" font-size="13" fill="#f0f0ff" font-weight="normal" textLength="26.14" lengthAdjust="spacingAndGlyphs" >SELL</text>
<text x="185.61" y="63" font-size="13" fill="#f0f0ff" font-weight="normal" textLength="24.64" lengthAdjust="spacingAndGlyphs" >BUY</text>
<text x="25.49" y="99" font-size="12.9" fill="#ffffff" font-weight="bold" textLength="24.88" lengthAdjust="spacingAndGlyphs" >0.69</text>
<text x="53.17" y="99" font-size="34.4" fill="#ffffff" font-weight="normal" textLength="36.25" lengthAdjust="spacingAndGlyphs" >21</text>
<text x="92.69" y="83" font-size="12.9" fill="#ffffff" font-weight="bold" textLength="8.05" lengthAdjust="spacingAndGlyphs" >7</text>
<text x="135.70" y="99" font-size="12.9" fill="#ffffff" font-weight="bold" textLength="24.36" lengthAdjust="spacingAndGlyphs" >0.69</text>
<text x="164.39" y="99" font-size="34.4" fill="#ffffff" font-weight="normal" textLength="35.86" lengthAdjust="spacingAndGlyphs" >23</text>
<text x="203.38" y="83" font-size="12.9" fill="#ffffff" font-weight="bold" textLength="8.17" lengthAdjust="spacingAndGlyphs" >7</text>
<rect x="1166" y="52" width="2" height="1" fill="#000"/>
<text x="1170.63" y="56" font-size="10" fill="#000" font-weight="normal" textLength="33.55" lengthAdjust="spacingAndGlyphs" stroke="#000" stroke-width="0.15" >0.76470</text>
<rect x="1166" y="85" width="2" height="1" fill="#000"/>
<text x="1170.63" y="89" font-size="10" fill="#000" font-weight="normal" textLength="33.55" lengthAdjust="spacingAndGlyphs" stroke="#000" stroke-width="0.15" >0.75710</text>
<rect x="1166" y="118" width="2" height="1" fill="#000"/>
<text x="1170.63" y="122" font-size="10" fill="#000" font-weight="normal" textLength="33.55" lengthAdjust="spacingAndGlyphs" stroke="#000" stroke-width="0.15" >0.74950</text>
<rect x="1166" y="151" width="2" height="1" fill="#000"/>
<text x="1170.63" y="155" font-size="10" fill="#000" font-weight="normal" textLength="33.55" lengthAdjust="spacingAndGlyphs" stroke="#000" stroke-width="0.15" >0.74210</text>
<rect x="1166" y="184" width="2" height="1" fill="#000"/>
<text x="1170.63" y="188" font-size="10" fill="#000" font-weight="normal" textLength="33.55" lengthAdjust="spacingAndGlyphs" stroke="#000" stroke-width="0.15" >0.73450</text>
<rect x="1166" y="217" width="2" height="1" fill="#000"/>
<text x="1170.63" y="221" font-size="10" fill="#000" font-weight="normal" textLength="33.55" lengthAdjust="spacingAndGlyphs" stroke="#000" stroke-width="0.15" >0.72690</text>
<rect x="1166" y="250" width="2" height="1" fill="#000"/>
<text x="1170.63" y="254" font-size="10" fill="#000" font-weight="normal" textLength="33.55" lengthAdjust="spacingAndGlyphs" stroke="#000" stroke-width="0.15" >0.71930</text>
<rect x="1166" y="283" width="2" height="1" fill="#000"/>
<text x="1170.63" y="287" font-size="10" fill="#000" font-weight="normal" textLength="32.86" lengthAdjust="spacingAndGlyphs" stroke="#000" stroke-width="0.15" >0.71170</text>
<rect x="1166" y="316" width="2" height="1" fill="#000"/>
<text x="1170.63" y="320" font-size="10" fill="#000" font-weight="normal" textLength="33.55" lengthAdjust="spacingAndGlyphs" stroke="#000" stroke-width="0.15" >0.70410</text>
<rect x="1166" y="349" width="2" height="1" fill="#000"/>
<rect x="1166" y="382" width="2" height="1" fill="#000"/>
<text x="1170.63" y="386" font-size="10" fill="#000" font-weight="normal" textLength="33.55" lengthAdjust="spacingAndGlyphs" stroke="#000" stroke-width="0.15" >0.68890</text>
<rect x="1166" y="415" width="2" height="1" fill="#000"/>
<text x="1170.63" y="419" font-size="10" fill="#000" font-weight="normal" textLength="33.55" lengthAdjust="spacingAndGlyphs" stroke="#000" stroke-width="0.15" >0.68130</text>
<rect x="1167" y="88" width="41" height="11" fill="#ff0000"/>
<text x="1170.63" y="97" font-size="10" fill="#ffffff" font-weight="normal" textLength="33.55" lengthAdjust="spacingAndGlyphs" stroke="#ffffff" stroke-width="0.15" >0.75512</text>
<rect x="1167" y="154" width="41" height="11" fill="#ff0000"/>
<text x="1170.63" y="163" font-size="10" fill="#ffffff" font-weight="normal" textLength="33.55" lengthAdjust="spacingAndGlyphs" stroke="#ffffff" stroke-width="0.15" >0.74002</text>
<rect x="1167" y="219" width="41" height="11" fill="#ff0000"/>
<text x="1170.63" y="228" font-size="10" fill="#ffffff" font-weight="normal" textLength="33.55" lengthAdjust="spacingAndGlyphs" stroke="#ffffff" stroke-width="0.15" >0.72504</text>
<rect x="1167" y="284" width="41" height="11" fill="#00ff00"/>
<text x="1170.63" y="293" font-size="10" fill="#ffffff" font-weight="normal" textLength="33.55" lengthAdjust="spacingAndGlyphs" stroke="#ffffff" stroke-width="0.15" >0.71013</text>
<rect x="1167" y="346" width="41" height="11" fill="#0000ff"/>
<text x="1170.63" y="355" font-size="10" fill="#ffffff" font-weight="normal" textLength="33.55" lengthAdjust="spacingAndGlyphs" stroke="#ffffff" stroke-width="0.15" >0.69582</text>
<rect x="1167" y="363" width="37" height="11" fill="#000"/>
<text x="1170.63" y="372" font-size="10" fill="#ffffff" font-weight="normal" textLength="33.55" lengthAdjust="spacingAndGlyphs" stroke="#ffffff" stroke-width="0.15" >0.69217</text>
<g clip-path="url(#cmacd)" shape-rendering="crispEdges">
<rect x="2" y="450" width="3" height="13" fill="#c0c0c0"/>
<rect x="6" y="450" width="3" height="17" fill="#c0c0c0"/>
<rect x="10" y="450" width="3" height="20" fill="#c0c0c0"/>
<rect x="14" y="450" width="3" height="23" fill="#c0c0c0"/>
<rect x="18" y="450" width="3" height="22" fill="#c0c0c0"/>
<rect x="22" y="450" width="3" height="20" fill="#c0c0c0"/>
<rect x="26" y="450" width="3" height="17" fill="#c0c0c0"/>
<rect x="30" y="450" width="3" height="17" fill="#c0c0c0"/>
<rect x="34" y="450" width="3" height="14" fill="#c0c0c0"/>
<rect x="38" y="450" width="3" height="11" fill="#c0c0c0"/>
<rect x="42" y="450" width="3" height="10" fill="#c0c0c0"/>
<rect x="46" y="450" width="3" height="8" fill="#c0c0c0"/>
<rect x="50" y="450" width="3" height="5" fill="#c0c0c0"/>
<rect x="54" y="450" width="3" height="1" fill="#c0c0c0"/>
<rect x="58" y="447" width="3" height="3" fill="#c0c0c0"/>
<rect x="62" y="444" width="3" height="6" fill="#c0c0c0"/>
<rect x="66" y="442" width="3" height="8" fill="#c0c0c0"/>
<rect x="70" y="442" width="3" height="8" fill="#c0c0c0"/>
<rect x="74" y="443" width="3" height="7" fill="#c0c0c0"/>
<rect x="78" y="443" width="3" height="7" fill="#c0c0c0"/>
<rect x="82" y="444" width="3" height="6" fill="#c0c0c0"/>
<rect x="86" y="444" width="3" height="6" fill="#c0c0c0"/>
<rect x="90" y="445" width="3" height="5" fill="#c0c0c0"/>
<rect x="94" y="447" width="3" height="3" fill="#c0c0c0"/>
<rect x="98" y="447" width="3" height="3" fill="#c0c0c0"/>
<rect x="102" y="449" width="3" height="1" fill="#c0c0c0"/>
<rect x="106" y="450" width="3" height="1" fill="#c0c0c0"/>
<rect x="110" y="450" width="3" height="3" fill="#c0c0c0"/>
<rect x="114" y="450" width="3" height="5" fill="#c0c0c0"/>
<rect x="118" y="450" width="3" height="7" fill="#c0c0c0"/>
<rect x="122" y="450" width="3" height="8" fill="#c0c0c0"/>
<rect x="126" y="450" width="3" height="7" fill="#c0c0c0"/>
<rect x="130" y="450" width="3" height="8" fill="#c0c0c0"/>
<rect x="134" y="450" width="3" height="8" fill="#c0c0c0"/>
<rect x="138" y="450" width="3" height="7" fill="#c0c0c0"/>
<rect x="142" y="450" width="3" height="8" fill="#c0c0c0"/>
<rect x="146" y="450" width="3" height="10" fill="#c0c0c0"/>
<rect x="150" y="450" width="3" height="10" fill="#c0c0c0"/>
<rect x="154" y="450" width="3" height="9" fill="#c0c0c0"/>
<rect x="158" y="450" width="3" height="8" fill="#c0c0c0"/>
<rect x="162" y="450" width="3" height="7" fill="#c0c0c0"/>
<rect x="166" y="450" width="3" height="6" fill="#c0c0c0"/>
<rect x="170" y="450" width="3" height="5" fill="#c0c0c0"/>
<rect x="174" y="450" width="3" height="3" fill="#c0c0c0"/>
<rect x="178" y="450" width="3" height="2" fill="#c0c0c0"/>
<rect x="182" y="450" width="3" height="1" fill="#c0c0c0"/>
<rect x="186" y="450" width="3" height="1" fill="#c0c0c0"/>
<rect x="190" y="449" width="3" height="1" fill="#c0c0c0"/>
<rect x="194" y="446" width="3" height="4" fill="#c0c0c0"/>
<rect x="198" y="444" width="3" height="6" fill="#c0c0c0"/>
<rect x="202" y="442" width="3" height="8" fill="#c0c0c0"/>
<rect x="206" y="440" width="3" height="10" fill="#c0c0c0"/>
<rect x="210" y="439" width="3" height="11" fill="#c0c0c0"/>
<rect x="214" y="437" width="3" height="13" fill="#c0c0c0"/>
<rect x="218" y="434" width="3" height="16" fill="#c0c0c0"/>
<rect x="222" y="434" width="3" height="16" fill="#c0c0c0"/>
<rect x="226" y="433" width="3" height="17" fill="#c0c0c0"/>
<rect x="230" y="433" width="3" height="17" fill="#c0c0c0"/>
<rect x="234" y="433" width="3" height="17" fill="#c0c0c0"/>
<rect x="238" y="432" width="3" height="18" fill="#c0c0c0"/>
<rect x="242" y="432" width="3" height="18" fill="#c0c0c0"/>
<rect x="246" y="431" width="3" height="19" fill="#c0c0c0"/>
<rect x="250" y="431" width="3" height="19" fill="#c0c0c0"/>
<rect x="254" y="431" width="3" height="19" fill="#c0c0c0"/>
<rect x="258" y="431" width="3" height="19" fill="#c0c0c0"/>
<rect x="262" y="434" width="3" height="16" fill="#c0c0c0"/>
<rect x="266" y="436" width="3" height="14" fill="#c0c0c0"/>
<rect x="270" y="439" width="3" height="11" fill="#c0c0c0"/>
<rect x="274" y="442" width="3" height="8" fill="#c0c0c0"/>
<rect x="278" y="444" width="3" height="6" fill="#c0c0c0"/>
<rect x="282" y="445" width="3" height="5" fill="#c0c0c0"/>
<rect x="286" y="447" width="3" height="3" fill="#c0c0c0"/>
<rect x="290" y="450" width="3" height="1" fill="#c0c0c0"/>
<rect x="294" y="450" width="3" height="4" fill="#c0c0c0"/>
<rect x="298" y="450" width="3" height="6" fill="#c0c0c0"/>
<rect x="302" y="450" width="3" height="7" fill="#c0c0c0"/>
<rect x="306" y="450" width="3" height="7" fill="#c0c0c0"/>
<rect x="310" y="450" width="3" height="9" fill="#c0c0c0"/>
<rect x="314" y="450" width="3" height="11" fill="#c0c0c0"/>
<rect x="318" y="450" width="3" height="12" fill="#c0c0c0"/>
<rect x="322" y="450" width="3" height="14" fill="#c0c0c0"/>
<rect x="326" y="450" width="3" height="15" fill="#c0c0c0"/>
<rect x="330" y="450" width="3" height="16" fill="#c0c0c0"/>
<rect x="334" y="450" width="3" height="17" fill="#c0c0c0"/>
<rect x="338" y="450" width="3" height="18" fill="#c0c0c0"/>
<rect x="342" y="450" width="3" height="20" fill="#c0c0c0"/>
<rect x="346" y="450" width="3" height="22" fill="#c0c0c0"/>
<rect x="350" y="450" width="3" height="23" fill="#c0c0c0"/>
<rect x="354" y="450" width="3" height="23" fill="#c0c0c0"/>
<rect x="358" y="450" width="3" height="24" fill="#c0c0c0"/>
<rect x="362" y="450" width="3" height="25" fill="#c0c0c0"/>
<rect x="366" y="450" width="3" height="26" fill="#c0c0c0"/>
<rect x="370" y="450" width="3" height="29" fill="#c0c0c0"/>
<rect x="374" y="450" width="3" height="30" fill="#c0c0c0"/>
<rect x="378" y="450" width="3" height="30" fill="#c0c0c0"/>
<rect x="382" y="450" width="3" height="27" fill="#c0c0c0"/>
<rect x="386" y="450" width="3" height="24" fill="#c0c0c0"/>
<rect x="390" y="450" width="3" height="21" fill="#c0c0c0"/>
<rect x="394" y="450" width="3" height="18" fill="#c0c0c0"/>
<rect x="398" y="450" width="3" height="16" fill="#c0c0c0"/>
<rect x="402" y="450" width="3" height="15" fill="#c0c0c0"/>
<rect x="406" y="450" width="3" height="15" fill="#c0c0c0"/>
<rect x="410" y="450" width="3" height="13" fill="#c0c0c0"/>
<rect x="414" y="450" width="3" height="11" fill="#c0c0c0"/>
<rect x="418" y="450" width="3" height="10" fill="#c0c0c0"/>
<rect x="422" y="450" width="3" height="10" fill="#c0c0c0"/>
<rect x="426" y="450" width="3" height="10" fill="#c0c0c0"/>
<rect x="430" y="450" width="3" height="9" fill="#c0c0c0"/>
<rect x="434" y="450" width="3" height="6" fill="#c0c0c0"/>
<rect x="438" y="450" width="3" height="3" fill="#c0c0c0"/>
<rect x="442" y="450" width="3" height="1" fill="#c0c0c0"/>
<rect x="446" y="450" width="3" height="1" fill="#c0c0c0"/>
<rect x="450" y="448" width="3" height="2" fill="#c0c0c0"/>
<rect x="454" y="447" width="3" height="3" fill="#c0c0c0"/>
<rect x="458" y="445" width="3" height="5" fill="#c0c0c0"/>
<rect x="462" y="445" width="3" height="5" fill="#c0c0c0"/>
<rect x="466" y="443" width="3" height="7" fill="#c0c0c0"/>
<rect x="470" y="442" width="3" height="8" fill="#c0c0c0"/>
<rect x="474" y="444" width="3" height="6" fill="#c0c0c0"/>
<rect x="478" y="444" width="3" height="6" fill="#c0c0c0"/>
<rect x="482" y="445" width="3" height="5" fill="#c0c0c0"/>
<rect x="486" y="447" width="3" height="3" fill="#c0c0c0"/>
<rect x="490" y="448" width="3" height="2" fill="#c0c0c0"/>
<rect x="494" y="449" width="3" height="1" fill="#c0c0c0"/>
<rect x="498" y="450" width="3" height="1" fill="#c0c0c0"/>
<rect x="502" y="449" width="3" height="1" fill="#c0c0c0"/>
<rect x="506" y="447" width="3" height="3" fill="#c0c0c0"/>
<rect x="510" y="446" width="3" height="4" fill="#c0c0c0"/>
<rect x="514" y="446" width="3" height="4" fill="#c0c0c0"/>
<rect x="518" y="447" width="3" height="3" fill="#c0c0c0"/>
<rect x="522" y="447" width="3" height="3" fill="#c0c0c0"/>
<rect x="526" y="449" width="3" height="1" fill="#c0c0c0"/>
<rect x="530" y="449" width="3" height="1" fill="#c0c0c0"/>
<rect x="534" y="449" width="3" height="1" fill="#c0c0c0"/>
<rect x="538" y="450" width="3" height="1" fill="#c0c0c0"/>
<rect x="542" y="450" width="3" height="1" fill="#c0c0c0"/>
<rect x="546" y="450" width="3" height="2" fill="#c0c0c0"/>
<rect x="550" y="450" width="3" height="3" fill="#c0c0c0"/>
<rect x="554" y="450" width="3" height="5" fill="#c0c0c0"/>
<rect x="558" y="450" width="3" height="8" fill="#c0c0c0"/>
<rect x="562" y="450" width="3" height="13" fill="#c0c0c0"/>
<rect x="566" y="450" width="3" height="16" fill="#c0c0c0"/>
<rect x="570" y="450" width="3" height="16" fill="#c0c0c0"/>
<rect x="574" y="450" width="3" height="14" fill="#c0c0c0"/>
<rect x="578" y="450" width="3" height="12" fill="#c0c0c0"/>
<rect x="582" y="450" width="3" height="10" fill="#c0c0c0"/>
<rect x="586" y="450" width="3" height="11" fill="#c0c0c0"/>
<rect x="590" y="450" width="3" height="11" fill="#c0c0c0"/>
<rect x="594" y="450" width="3" height="9" fill="#c0c0c0"/>
<rect x="598" y="450" width="3" height="8" fill="#c0c0c0"/>
<rect x="602" y="450" width="3" height="5" fill="#c0c0c0"/>
<rect x="606" y="450" width="3" height="4" fill="#c0c0c0"/>
<rect x="610" y="450" width="3" height="4" fill="#c0c0c0"/>
<rect x="614" y="450" width="3" height="3" fill="#c0c0c0"/>
<rect x="618" y="450" width="3" height="3" fill="#c0c0c0"/>
<rect x="622" y="450" width="3" height="2" fill="#c0c0c0"/>
<rect x="626" y="450" width="3" height="1" fill="#c0c0c0"/>
<rect x="630" y="449" width="3" height="1" fill="#c0c0c0"/>
<rect x="634" y="448" width="3" height="2" fill="#c0c0c0"/>
<rect x="638" y="448" width="3" height="2" fill="#c0c0c0"/>
<rect x="642" y="447" width="3" height="3" fill="#c0c0c0"/>
<rect x="646" y="446" width="3" height="4" fill="#c0c0c0"/>
<rect x="650" y="444" width="3" height="6" fill="#c0c0c0"/>
<rect x="654" y="445" width="3" height="5" fill="#c0c0c0"/>
<rect x="658" y="444" width="3" height="6" fill="#c0c0c0"/>
<rect x="662" y="445" width="3" height="5" fill="#c0c0c0"/>
<rect x="666" y="443" width="3" height="7" fill="#c0c0c0"/>
<rect x="670" y="442" width="3" height="8" fill="#c0c0c0"/>
<rect x="674" y="440" width="3" height="10" fill="#c0c0c0"/>
<rect x="678" y="437" width="3" height="13" fill="#c0c0c0"/>
<rect x="682" y="435" width="3" height="15" fill="#c0c0c0"/>
<rect x="686" y="432" width="3" height="18" fill="#c0c0c0"/>
<rect x="690" y="432" width="3" height="18" fill="#c0c0c0"/>
<rect x="694" y="434" width="3" height="16" fill="#c0c0c0"/>
<rect x="698" y="434" width="3" height="16" fill="#c0c0c0"/>
<rect x="702" y="433" width="3" height="17" fill="#c0c0c0"/>
<rect x="706" y="435" width="3" height="15" fill="#c0c0c0"/>
<rect x="710" y="436" width="3" height="14" fill="#c0c0c0"/>
<rect x="714" y="440" width="3" height="10" fill="#c0c0c0"/>
<rect x="718" y="443" width="3" height="7" fill="#c0c0c0"/>
<rect x="722" y="443" width="3" height="7" fill="#c0c0c0"/>
<rect x="726" y="441" width="3" height="9" fill="#c0c0c0"/>
<rect x="730" y="438" width="3" height="12" fill="#c0c0c0"/>
<rect x="734" y="436" width="3" height="14" fill="#c0c0c0"/>
<rect x="738" y="435" width="3" height="15" fill="#c0c0c0"/>
<rect x="742" y="432" width="3" height="18" fill="#c0c0c0"/>
<rect x="746" y="430" width="3" height="20" fill="#c0c0c0"/>
<rect x="750" y="427" width="3" height="23" fill="#c0c0c0"/>
<rect x="754" y="426" width="3" height="24" fill="#c0c0c0"/>
<rect x="758" y="425" width="3" height="25" fill="#c0c0c0"/>
<rect x="762" y="425" width="3" height="25" fill="#c0c0c0"/>
<rect x="766" y="425" width="3" height="25" fill="#c0c0c0"/>
<rect x="770" y="425" width="3" height="25" fill="#c0c0c0"/>
<rect x="774" y="426" width="3" height="24" fill="#c0c0c0"/>
<rect x="778" y="427" width="3" height="23" fill="#c0c0c0"/>
<rect x="782" y="428" width="3" height="22" fill="#c0c0c0"/>
<rect x="786" y="428" width="3" height="22" fill="#c0c0c0"/>
<rect x="790" y="427" width="3" height="23" fill="#c0c0c0"/>
<rect x="794" y="428" width="3" height="22" fill="#c0c0c0"/>
<rect x="798" y="430" width="3" height="20" fill="#c0c0c0"/>
<rect x="802" y="433" width="3" height="17" fill="#c0c0c0"/>
<rect x="806" y="435" width="3" height="15" fill="#c0c0c0"/>
<rect x="810" y="439" width="3" height="11" fill="#c0c0c0"/>
<rect x="814" y="440" width="3" height="10" fill="#c0c0c0"/>
<rect x="818" y="441" width="3" height="9" fill="#c0c0c0"/>
<rect x="822" y="444" width="3" height="6" fill="#c0c0c0"/>
<rect x="826" y="446" width="3" height="4" fill="#c0c0c0"/>
<rect x="830" y="448" width="3" height="2" fill="#c0c0c0"/>
<rect x="834" y="450" width="3" height="1" fill="#c0c0c0"/>
<rect x="838" y="450" width="3" height="1" fill="#c0c0c0"/>
<rect x="842" y="450" width="3" height="1" fill="#c0c0c0"/>
<rect x="846" y="450" width="3" height="2" fill="#c0c0c0"/>
<rect x="850" y="450" width="3" height="7" fill="#c0c0c0"/>
<rect x="854" y="450" width="3" height="11" fill="#c0c0c0"/>
<rect x="858" y="450" width="3" height="15" fill="#c0c0c0"/>
<rect x="862" y="450" width="3" height="20" fill="#c0c0c0"/>
<rect x="866" y="450" width="3" height="23" fill="#c0c0c0"/>
<rect x="870" y="450" width="3" height="26" fill="#c0c0c0"/>
<rect x="874" y="450" width="3" height="29" fill="#c0c0c0"/>
<rect x="878" y="450" width="3" height="32" fill="#c0c0c0"/>
<rect x="882" y="450" width="3" height="33" fill="#c0c0c0"/>
<rect x="886" y="450" width="3" height="33" fill="#c0c0c0"/>
<rect x="890" y="450" width="3" height="28" fill="#c0c0c0"/>
<rect x="894" y="450" width="3" height="28" fill="#c0c0c0"/>
<rect x="898" y="450" width="3" height="28" fill="#c0c0c0"/>
<rect x="902" y="450" width="3" height="29" fill="#c0c0c0"/>
<rect x="906" y="450" width="3" height="32" fill="#c0c0c0"/>
<rect x="910" y="450" width="3" height="35" fill="#c0c0c0"/>
<rect x="914" y="450" width="3" height="37" fill="#c0c0c0"/>
<rect x="918" y="450" width="3" height="39" fill="#c0c0c0"/>
<rect x="922" y="450" width="3" height="39" fill="#c0c0c0"/>
</g>
<polyline clip-path="url(#cmacd)" points="-0.5,459.1 3.5,459.5 7.5,460.3 11.5,461.5 15.5,463.1 19.5,464.6 23.5,465.9 27.5,466.9 31.5,467.8 35.5,468.1 39.5,467.9 43.5,467.0 47.5,465.6 51.5,463.6 55.5,461.3 59.5,458.8 63.5,456.2 67.5,453.5 71.5,451.2 75.5,449.2 79.5,447.3 83.5,445.8 87.5,444.7 91.5,443.9 95.5,443.9 99.5,444.2 103.5,445.0 107.5,446.1 111.5,447.2 115.5,448.5 119.5,449.9 123.5,451.5 127.5,452.8 131.5,454.1 135.5,455.2 139.5,456.1 143.5,456.8 147.5,457.5 151.5,458.1 155.5,458.4 159.5,458.3 163.5,458.2 167.5,458.0 171.5,457.7 175.5,457.2 179.5,456.6 183.5,455.6 187.5,454.4 191.5,453.3 195.5,452.0 199.5,450.5 203.5,449.0 207.5,447.3 211.5,445.8 215.5,444.1 219.5,442.2 223.5,440.4 227.5,438.7 231.5,437.3 235.5,436.0 239.5,435.0 243.5,434.1 247.5,433.2 251.5,432.5 255.5,432.2 259.5,431.9 263.5,432.0 267.5,432.3 271.5,433.0 275.5,434.1 279.5,435.4 283.5,437.0 287.5,438.9 291.5,441.0 295.5,443.5 299.5,445.9 303.5,448.2 307.5,450.2 311.5,452.1 315.5,454.0 319.5,455.8 323.5,457.6 327.5,459.3 331.5,460.7 335.5,462.0 339.5,463.3 343.5,464.7 347.5,466.2 351.5,467.6 355.5,468.9 359.5,470.0 363.5,471.1 367.5,472.1 371.5,473.4 375.5,474.6 379.5,475.7 383.5,476.3 387.5,476.3 391.5,476.0 395.5,475.4 399.5,474.4 403.5,473.3 407.5,471.8 411.5,469.9 415.5,467.8 419.5,465.9 423.5,464.4 427.5,463.2 431.5,462.2 435.5,461.1 439.5,459.8 443.5,458.3 447.5,456.8 451.5,455.4 455.5,453.9 459.5,452.3 463.5,450.5 467.5,448.8 471.5,447.2 475.5,446.2 479.5,445.3 483.5,444.8 487.5,444.6 491.5,444.7 495.5,445.1 499.5,445.7 503.5,446.4 507.5,446.9 511.5,447.1 515.5,447.4 519.5,447.6 523.5,447.7 527.5,447.8 531.5,447.7 535.5,447.7 539.5,447.7 543.5,448.1 547.5,448.8 551.5,449.5 555.5,450.4 559.5,451.6 563.5,453.2 567.5,455.1 571.5,457.0 575.5,458.5 579.5,459.8 583.5,460.7 587.5,461.6 591.5,462.3 595.5,462.4 599.5,461.8 603.5,460.7 607.5,459.4 611.5,458.3 615.5,457.2 619.5,456.4 623.5,455.4 627.5,454.2 631.5,453.1 635.5,452.0 639.5,451.2 643.5,450.5 647.5,449.6 651.5,448.6 655.5,447.8 659.5,446.9 663.5,446.3 667.5,445.6 671.5,444.9 675.5,444.0 679.5,442.9 683.5,441.6 687.5,440.3 691.5,438.8 695.5,437.6 699.5,436.4 703.5,435.3 707.5,434.5 711.5,434.1 715.5,434.4 719.5,435.3 723.5,436.6 727.5,437.6 731.5,438.0 735.5,438.2 739.5,438.4 743.5,438.2 747.5,437.5 751.5,436.1 755.5,434.2 759.5,432.1 763.5,430.3 767.5,428.8 771.5,427.6 775.5,426.7 779.5,426.1 783.5,425.9 787.5,426.0 791.5,426.1 795.5,426.5 799.5,427.1 803.5,428.1 807.5,429.2 811.5,430.6 815.5,432.0 819.5,433.5 823.5,435.2 827.5,437.4 831.5,439.5 835.5,441.7 839.5,443.8 843.5,445.4 847.5,447.0 851.5,448.9 855.5,451.1 859.5,453.5 863.5,456.1 867.5,458.9 871.5,461.8 875.5,464.9 879.5,468.4 883.5,471.9 887.5,474.7 891.5,476.6 895.5,478.0 899.5,479.0 903.5,479.6 907.5,480.3 911.5,480.9 915.5,481.5 919.5,482.1 923.5,482.8" fill="none" stroke="#ff0000" stroke-width="1" shape-rendering="crispEdges"/>
<text x="6.92" y="433" font-size="10" fill="#000" font-weight="normal" textLength="153.87" lengthAdjust="spacingAndGlyphs" stroke="#000" stroke-width="0.15" >MACD(12,26,9) -0.011198 -0.009355</text>
<text x="1168.63" y="431" font-size="10" fill="#000" font-weight="normal" textLength="38.71" lengthAdjust="spacingAndGlyphs" stroke="#000" stroke-width="0.15" >0.008197</text>
<text x="1168.63" y="454" font-size="10" fill="#000" font-weight="normal" textLength="18.06" lengthAdjust="spacingAndGlyphs" stroke="#000" stroke-width="0.15" >0.00</text>
<text x="1168.58" y="489" font-size="10" fill="#000" font-weight="normal" textLength="41.80" lengthAdjust="spacingAndGlyphs" stroke="#000" stroke-width="0.15" >-0.012121</text>
<rect x="1166" y="422" width="2" height="1" fill="#000"/>
<rect x="1166" y="450" width="2" height="1" fill="#000"/>
<rect x="1166" y="491" width="2" height="1" fill="#000"/>
<line x1="4" y1="517.5" x2="1165" y2="517.5" stroke="#c0c0c0" stroke-width="1" stroke-dasharray="3,3" shape-rendering="crispEdges"/>
<line x1="4" y1="546.5" x2="1165" y2="546.5" stroke="#c0c0c0" stroke-width="1" stroke-dasharray="3,3" shape-rendering="crispEdges"/>
<polyline clip-path="url(#crsi)" points="-0.5,542.7 3.5,545.3 7.5,549.6 11.5,550.0 15.5,549.3 19.5,540.8 23.5,534.8 27.5,534.5 31.5,537.4 35.5,530.9 39.5,531.0 43.5,533.1 47.5,530.8 51.5,527.1 55.5,524.8 59.5,521.4 63.5,523.2 67.5,523.8 71.5,528.5 75.5,530.8 79.5,530.0 83.5,530.5 87.5,530.3 91.5,530.6 95.5,535.2 99.5,532.7 103.5,537.0 107.5,538.7 111.5,539.4 115.5,539.5 119.5,542.2 123.5,541.4 127.5,533.6 131.5,536.7 135.5,536.4 139.5,534.6 143.5,538.1 147.5,543.0 151.5,537.4 155.5,533.6 159.5,533.1 163.5,531.5 167.5,531.9 171.5,532.3 175.5,528.6 179.5,529.5 183.5,531.6 187.5,526.2 191.5,528.0 195.5,523.7 199.5,521.5 203.5,521.2 207.5,520.9 211.5,522.4 215.5,517.9 219.5,515.5 223.5,522.7 227.5,522.4 231.5,522.4 235.5,520.5 239.5,519.0 243.5,521.1 247.5,518.6 251.5,519.7 255.5,520.6 259.5,520.4 263.5,531.9 267.5,528.5 271.5,534.5 275.5,535.8 279.5,535.4 283.5,533.4 287.5,536.2 291.5,540.4 295.5,543.2 299.5,539.0 303.5,538.6 307.5,537.2 311.5,540.8 315.5,543.0 319.5,542.1 323.5,544.8 327.5,545.0 331.5,545.3 335.5,545.9 339.5,547.3 343.5,549.1 347.5,552.0 351.5,547.8 355.5,547.6 359.5,548.9 363.5,549.8 367.5,551.1 371.5,555.0 375.5,551.5 379.5,547.3 383.5,538.7 387.5,534.2 391.5,535.9 395.5,533.8 399.5,534.0 403.5,537.0 407.5,539.3 411.5,532.9 415.5,532.0 419.5,535.4 423.5,536.9 427.5,537.7 431.5,533.5 435.5,528.2 439.5,526.5 443.5,527.2 447.5,527.0 451.5,526.4 455.5,526.9 459.5,524.5 463.5,526.0 467.5,523.8 471.5,524.3 475.5,533.2 479.5,528.8 483.5,531.0 487.5,536.1 491.5,534.0 495.5,534.4 499.5,534.4 503.5,530.8 507.5,524.9 511.5,524.7 515.5,532.5 519.5,531.4 523.5,532.2 527.5,534.5 531.5,531.4 535.5,532.1 539.5,535.4 543.5,534.1 547.5,537.3 551.5,536.5 555.5,539.9 559.5,545.7 563.5,548.4 567.5,546.6 571.5,538.5 575.5,533.1 579.5,534.3 583.5,532.3 587.5,537.1 591.5,536.6 595.5,532.6 599.5,531.4 603.5,528.9 607.5,530.4 611.5,533.4 615.5,531.5 619.5,532.9 623.5,531.3 627.5,527.6 631.5,528.4 635.5,528.6 639.5,529.9 643.5,528.6 647.5,524.8 651.5,524.8 655.5,532.3 659.5,526.3 663.5,530.9 667.5,525.5 671.5,525.4 675.5,523.3 679.5,520.8 683.5,519.0 687.5,517.8 691.5,524.5 695.5,529.7 699.5,526.6 703.5,523.7 707.5,529.3 711.5,529.2 715.5,535.6 719.5,536.2 723.5,529.8 727.5,525.1 731.5,523.9 735.5,523.8 739.5,524.5 743.5,521.5 747.5,520.0 751.5,519.5 755.5,519.0 759.5,519.3 763.5,521.7 767.5,520.6 771.5,522.3 775.5,523.1 779.5,522.9 783.5,523.8 787.5,519.9 791.5,517.7 795.5,526.2 799.5,528.5 803.5,530.2 807.5,531.4 811.5,534.1 815.5,530.6 819.5,531.1 823.5,534.9 827.5,536.0 831.5,535.8 835.5,538.9 839.5,534.8 843.5,530.3 847.5,536.9 851.5,543.8 855.5,543.8 859.5,546.3 863.5,547.8 867.5,548.5 871.5,549.1 875.5,550.1 879.5,550.8 883.5,551.2 887.5,545.2 891.5,532.6 895.5,539.5 899.5,541.5 903.5,542.8 907.5,546.0 911.5,546.7 915.5,546.9 919.5,548.8 923.5,544.5" fill="none" stroke="#1e90ff" stroke-width="1" shape-rendering="crispEdges"/>
<text x="6.83" y="507" font-size="10" fill="#000" font-weight="normal" textLength="68.47" lengthAdjust="spacingAndGlyphs" stroke="#000" stroke-width="0.15" >RSI(14) 32.8426</text>
<text x="1168.50" y="505" font-size="10" fill="#000" font-weight="normal" textLength="15.48" lengthAdjust="spacingAndGlyphs" stroke="#000" stroke-width="0.15" >100</text>
<text x="1167.74" y="521" font-size="10" fill="#000" font-weight="normal" textLength="10.32" lengthAdjust="spacingAndGlyphs" stroke="#000" stroke-width="0.15" >70</text>
<text x="1167.85" y="550" font-size="10" fill="#000" font-weight="normal" textLength="10.32" lengthAdjust="spacingAndGlyphs" stroke="#000" stroke-width="0.15" >30</text>
<text x="1168.83" y="565" font-size="10" fill="#000" font-weight="normal" textLength="5.16" lengthAdjust="spacingAndGlyphs" stroke="#000" stroke-width="0.15" >0</text>
<rect x="1166" y="496" width="2" height="1" fill="#000"/>
<rect x="1166" y="567" width="2" height="1" fill="#000"/>
<rect x="3" y="569" width="1" height="3" fill="#000"/>
<text x="1.79" y="581" font-size="10" fill="#000" font-weight="normal" textLength="53.28" lengthAdjust="spacingAndGlyphs" stroke="#000" stroke-width="0.15" >18 Aug 2021</text>
<rect x="67" y="569" width="1" height="3" fill="#000"/>
<text x="65.64" y="581" font-size="10" fill="#000" font-weight="normal" textLength="47.21" lengthAdjust="spacingAndGlyphs" stroke="#000" stroke-width="0.15" >6 Sep 2021</text>
<rect x="131" y="569" width="1" height="3" fill="#000"/>
<text x="130.23" y="581" font-size="10" fill="#000" font-weight="normal" textLength="53.43" lengthAdjust="spacingAndGlyphs" stroke="#000" stroke-width="0.15" >24 Sep 2021</text>
<rect x="195" y="569" width="1" height="3" fill="#000"/>
<text x="193.79" y="581" font-size="10" fill="#000" font-weight="normal" textLength="51.26" lengthAdjust="spacingAndGlyphs" stroke="#000" stroke-width="0.15" >13 Oct 2021</text>
<rect x="259" y="569" width="1" height="3" fill="#000"/>
<text x="257.78" y="581" font-size="10" fill="#000" font-weight="normal" textLength="48.87" lengthAdjust="spacingAndGlyphs" stroke="#000" stroke-width="0.15" >1 Nov 2021</text>
<rect x="323" y="569" width="1" height="3" fill="#000"/>
<text x="321.99" y="581" font-size="10" fill="#000" font-weight="normal" textLength="53.42" lengthAdjust="spacingAndGlyphs" stroke="#000" stroke-width="0.15" >19 Nov 2021</text>
<rect x="387" y="569" width="1" height="3" fill="#000"/>
<text x="386.30" y="581" font-size="10" fill="#000" font-weight="normal" textLength="48.18" lengthAdjust="spacingAndGlyphs" stroke="#000" stroke-width="0.15" >8 Dec 2021</text>
<rect x="451" y="569" width="1" height="3" fill="#000"/>
<text x="450.23" y="581" font-size="10" fill="#000" font-weight="normal" textLength="53.42" lengthAdjust="spacingAndGlyphs" stroke="#000" stroke-width="0.15" >27 Dec 2021</text>
<rect x="515" y="569" width="1" height="3" fill="#000"/>
<text x="513.99" y="581" font-size="10" fill="#000" font-weight="normal" textLength="51.86" lengthAdjust="spacingAndGlyphs" stroke="#000" stroke-width="0.15" >14 Jan 2022</text>
<rect x="579" y="569" width="1" height="3" fill="#000"/>
<text x="578.23" y="581" font-size="10" fill="#000" font-weight="normal" textLength="47.66" lengthAdjust="spacingAndGlyphs" stroke="#000" stroke-width="0.15" >2 Feb 2022</text>
<rect x="643" y="569" width="1" height="3" fill="#000"/>
<text x="642.23" y="581" font-size="10" fill="#000" font-weight="normal" textLength="52.90" lengthAdjust="spacingAndGlyphs" stroke="#000" stroke-width="0.15" >21 Feb 2022</text>
<rect x="707" y="569" width="1" height="3" fill="#000"/>
<text x="705.99" y="581" font-size="10" fill="#000" font-weight="normal" textLength="52.19" lengthAdjust="spacingAndGlyphs" stroke="#000" stroke-width="0.15" >11 Mar 2022</text>
<rect x="771" y="569" width="1" height="3" fill="#000"/>
<text x="770.35" y="581" font-size="10" fill="#000" font-weight="normal" textLength="52.89" lengthAdjust="spacingAndGlyphs" stroke="#000" stroke-width="0.15" >30 Mar 2022</text>
<rect x="835" y="569" width="1" height="3" fill="#000"/>
<text x="833.99" y="581" font-size="10" fill="#000" font-weight="normal" textLength="50.81" lengthAdjust="spacingAndGlyphs" stroke="#000" stroke-width="0.15" >18 Apr 2022</text>
<rect x="899" y="569" width="1" height="3" fill="#000"/>
<text x="898.23" y="581" font-size="10" fill="#000" font-weight="normal" textLength="49.23" lengthAdjust="spacingAndGlyphs" stroke="#000" stroke-width="0.15" >6 May 2022</text>
<rect x="0" y="589" width="1208" height="1" fill="#e3e3e3"/>
<rect x="0" y="590" width="1208" height="1" fill="#ffffff"/>
<rect x="0" y="591" width="1208" height="24" fill="#f0f0f0"/>
<rect x="0" y="591" width="1208" height="1" fill="#000"/>
<rect x="0" y="611" width="1208" height="1" fill="#fbfbfb"/>
<rect x="0" y="612" width="1208" height="3" fill="#ececec"/>
<rect x="212" y="591" width="108" height="19" fill="#000"/>
<rect x="213" y="591" width="106" height="18" fill="#ffffff"/>
<text x="14.54" y="606" font-size="13" fill="#6d6d6d" font-weight="normal" textLength="78.38" lengthAdjust="spacingAndGlyphs" >USDX,Weekly</text>
<text x="114.40" y="606" font-size="13" fill="#6d6d6d" font-weight="normal" textLength="85.62" lengthAdjust="spacingAndGlyphs" >EURUSD-,Daily</text>
<text x="221.97" y="606" font-size="13" fill="#000000" font-weight="normal" textLength="86.95" lengthAdjust="spacingAndGlyphs" >AUDUSD-,Daily</text>
<text x="331.57" y="606" font-size="13" fill="#6d6d6d" font-weight="normal" textLength="84.16" lengthAdjust="spacingAndGlyphs" >USDCHF-,Daily</text>
<text x="438.55" y="606" font-size="13" fill="#6d6d6d" font-weight="normal" textLength="86.26" lengthAdjust="spacingAndGlyphs" >USDCAD-,Daily</text>
<text x="546.53" y="606" font-size="13" fill="#6d6d6d" font-weight="normal" textLength="102.29" lengthAdjust="spacingAndGlyphs" >USDCNH-,Weekly</text>
<text x="671.02" y="606" font-size="13" fill="#6d6d6d" font-weight="normal" textLength="85.62" lengthAdjust="spacingAndGlyphs" >XAUUSD-,Daily</text>
<text x="778.41" y="606" font-size="13" fill="#6d6d6d" font-weight="normal" textLength="69.62" lengthAdjust="spacingAndGlyphs" >UKOil-,Daily</text>
<text x="871.07" y="606" font-size="13" fill="#6d6d6d" font-weight="normal" textLength="64.47" lengthAdjust="spacingAndGlyphs" >DJ30-,Daily</text>
<text x="958.43" y="606" font-size="13" fill="#6d6d6d" font-weight="normal" textLength="62.09" lengthAdjust="spacingAndGlyphs" >UK100-,H1</text>
<text x="1043.44" y="606" font-size="13" fill="#6d6d6d" font-weight="normal" textLength="67.80" lengthAdjust="spacingAndGlyphs" >USOil-,Daily</text>
<text x="1133.45" y="606" font-size="13" fill="#6d6d6d" font-weight="normal" textLength="42.89" lengthAdjust="spacingAndGlyphs" >HK50-,|</text>
<rect x="104" y="594" width="1" height="14" fill="#6d6d6d"/>
<rect x="428" y="594" width="1" height="14" fill="#6d6d6d"/>
<rect x="536" y="594" width="1" height="14" fill="#6d6d6d"/>
<rect x="660" y="594" width="1" height="14" fill="#6d6d6d"/>
<rect x="768" y="594" width="1" height="14" fill="#6d6d6d"/>
<rect x="860" y="594" width="1" height="14" fill="#6d6d6d"/>
<rect x="947" y="594" width="1" height="14" fill="#6d6d6d"/>
<rect x="1032" y="594" width="1" height="14" fill="#6d6d6d"/>
<rect x="1124" y="594" width="1" height="14" fill="#6d6d6d"/>
<path d="M1184,597 L1184,604 L1180.5,600.5 Z" fill="#a0a0a0"/>
<path d="M1200,597 L1200,604 L1203.5,600.5 Z" fill="#000"/></svg></body></html>
